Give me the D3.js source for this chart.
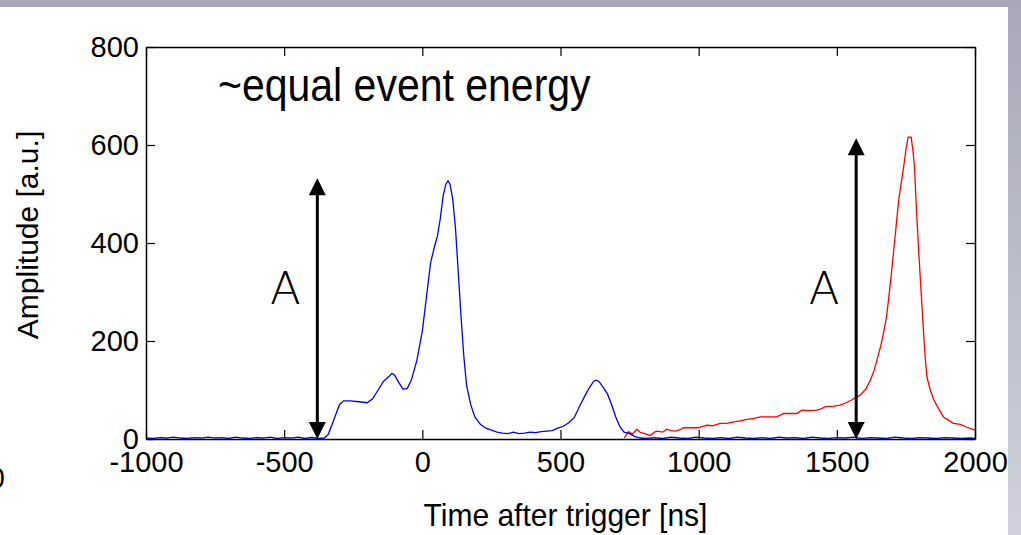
<!DOCTYPE html>
<html>
<head>
<meta charset="utf-8">
<script src="https://cdn.jsdelivr.net/npm/d3@7"></script>
<style>
html,body{margin:0;padding:0;background:#fff;}
svg{display:block;}
</style>
</head>
<body>
<svg id="chart" width="1021" height="535"></svg>
<script>
// ---- data ----
const blueTime = [-1000,-975,-950,-925,-900,-875,-850,-825,-800,-775,-750,-725,-700,-675,-650,-625,-600,-575,-550,-525,-500,-475,-450,-425,-400,-375,-355,-340,-320,-300,-285,-260,-230,-200,-180,-160,-140,-120,-110,-100,-85,-70,-55,-40,-20,0,15,30,45,55,65,75,85,93,100,110,120,130,140,150,160,175,190,210,230,250,270,290,310,330,350,370,390,410,430,450,470,490,510,530,550,570,590,605,620,630,640,655,670,685,700,715,730,750,770,790,810,840,870,900,930,960,990,1020,1050,1080,1110,1140,1170,1200,1230,1260,1290,1320,1350,1380,1410,1440,1470,1500,1530,1560,1590,1620,1650,1680,1710,1740,1770,1800,1830,1860,1890,1920,1950,1980,2000];
const blueAmp  = [2,1,3,2,4,2,1,3,2,4,2,3,1,4,2,1,3,2,4,1,3,2,4,1,3,1,2,10,40,70,78,78,76,74,82,100,118,128,134,130,115,102,103,120,160,220,290,360,395,415,450,495,520,527,520,490,430,340,250,170,110,70,45,30,22,18,14,12,11,14,11,12,14,13,15,16,17,22,26,33,44,68,90,105,118,120,117,105,92,70,45,25,14,11,5,2,1,3,1,4,2,1,4,2,1,3,1,4,2,1,3,1,4,2,3,1,4,2,1,3,2,4,1,3,2,1,4,2,1,3,2,1,3,2,1,2,1];
const redTime = [731,746,760,776,790,800,815,825,840,849,870,885,900,915,933,945,970,1000,1015,1030,1050,1078,1100,1127,1150,1175,1200,1223,1250,1283,1307,1330,1355,1373,1400,1427,1445,1458,1490,1512,1530,1555,1585,1605,1621,1635,1645,1658,1669,1680,1687,1697,1706,1715,1724,1733,1742,1750,1758,1769,1775,1781,1788,1796,1805,1814,1820,1826,1838,1851,1868,1886,1905,1922,1947,1970,1990,2000];
const redAmp  = [2,15,10,20,13,12,9,7,14,16,14,20,17,16,19,23,23,23,26,28,27,32,32,35,37,40,42,45,45,45,52,52,52,59,58,59,62,66,67,69,73,80,90,102,120,140,161,188,216,250,284,335,386,437,488,522,556,590,616,616,590,556,470,386,300,216,165,127,100,80,62,45,38,32,30,24,20,18];
const xTicks = [-1000,-500,0,500,1000,1500,2000];
const yTicks = [0,200,400,600,800];
const arrowTime = [-380, 1570];
const arrowTop  = [532, 614];
const arrowLabel = ["A","A"];
const titleText = "~equal event energy";
const xTitle = "Time after trigger [ns]";
const yTitle = "Amplitude [a.u.]";

// ---- layout ----
const svg = d3.select("#chart");
const L = 146, R = 975, T = 47, B = 439;
const x = d3.scaleLinear().domain([-1000, 2000]).range([L, R]);
const y = d3.scaleLinear().domain([0, 800]).range([B, T]);

// background frame
const defs = svg.append("defs");
const grad = defs.append("linearGradient").attr("id","side").attr("x1",0).attr("y1",0).attr("x2",0).attr("y2",1);
grad.append("stop").attr("offset","0%").attr("stop-color","#a8a8b8");
grad.append("stop").attr("offset","100%").attr("stop-color","#d0d1dd");
svg.append("rect").attr("x",0).attr("y",0).attr("width",1021).attr("height",535).attr("fill","#fff");
svg.append("rect").attr("x",0).attr("y",0).attr("width",1021).attr("height",7).attr("fill","#a8a8b8");
svg.append("rect").attr("x",1008).attr("y",0).attr("width",13).attr("height",535).attr("fill","url(#side)");

defs.append("clipPath").attr("id","plot").append("rect")
  .attr("x",L).attr("y",T).attr("width",R-L).attr("height",B-T+1);

const font = "'Liberation Sans', Arial, Helvetica, sans-serif";

// lines
const line = d3.line().x(d => x(d[0])).y(d => y(d[1]));
const blue = blueTime.map((t,i) => [t, blueAmp[i]]);
const red = redTime.map((t,i) => [t, redAmp[i]]);
const g = svg.append("g").attr("clip-path","url(#plot)");
g.append("path").datum(red).attr("d", line).attr("fill","none").attr("stroke","#ff0000").attr("stroke-width",1.3);
g.append("path").datum(blue).attr("d", line).attr("fill","none").attr("stroke","#0000ff").attr("stroke-width",1.3);

// axes
function styleAxis(sel){
  sel.selectAll(".domain").attr("stroke","#000").attr("stroke-width",1.5);
  sel.selectAll(".tick line").attr("stroke","#000").attr("stroke-width",1.2);
  sel.selectAll("text").attr("font-family", font).attr("font-size", 29).attr("fill","#000");
}
const xb = svg.append("g").attr("transform",`translate(0,${B})`)
  .call(d3.axisBottom(x).tickValues(xTicks).tickSizeInner(-9).tickSizeOuter(0).tickPadding(12).tickFormat(d => String(d)));
styleAxis(xb);
const xt = svg.append("g").attr("transform",`translate(0,${T})`)
  .call(d3.axisTop(x).tickValues(xTicks).tickSizeInner(-9).tickSizeOuter(0).tickFormat(""));
styleAxis(xt);
const yl = svg.append("g").attr("transform",`translate(${L},0)`)
  .call(d3.axisLeft(y).tickValues(yTicks).tickSizeInner(-9).tickSizeOuter(0).tickPadding(7).tickFormat(d => String(d)));
styleAxis(yl);
const yr = svg.append("g").attr("transform",`translate(${R},0)`)
  .call(d3.axisRight(y).tickValues(yTicks).tickSizeInner(-9).tickSizeOuter(0).tickFormat(""));
styleAxis(yr);

// arrows
const ah = 17, aw = 17;
arrowTime.forEach((t,i) => {
  const ax = x(t), top = y(arrowTop[i]), bot = y(0);
  svg.append("line").attr("x1",ax).attr("x2",ax).attr("y1",top+ah-2).attr("y2",bot-ah+2)
    .attr("stroke","#000").attr("stroke-width",3);
  svg.append("path").attr("d",`M${ax},${top} L${ax-aw/2},${top+ah} L${ax+aw/2},${top+ah} Z`).attr("fill","#000");
  svg.append("path").attr("d",`M${ax},${bot} L${ax-aw/2},${bot-ah} L${ax+aw/2},${bot-ah} Z`).attr("fill","#000");
  svg.append("text").attr("x", ax - 32).attr("y", 304).attr("text-anchor","middle")
    .attr("font-family","'DejaVu Sans ExtraLight','DejaVu Sans',sans-serif").attr("font-weight",200)
    .attr("font-size",45).attr("fill","#000").text(arrowLabel[i]);
});

// texts
svg.append("text").attr("transform","translate(218,101) scale(1,1.12)").attr("font-family",font).attr("font-size",41)
  .attr("fill","#000").text(titleText);
svg.append("text").attr("transform",`translate(${(L+R)/2+5},526) scale(1,1.06)`).attr("text-anchor","middle").attr("font-family",font)
  .attr("font-size",30).attr("fill","#000").text(xTitle);
svg.append("text").attr("transform","translate(38,235) rotate(-90)").attr("text-anchor","middle")
  .attr("font-family",font).attr("font-size",30).attr("fill","#000").text(yTitle);
// partial label at left edge (cut off in the original too)
svg.append("text").attr("x",5).attr("y",488).attr("text-anchor","end").attr("font-family",font)
  .attr("font-size",29).attr("fill","#000").text("0");
</script>
</body>
</html>
